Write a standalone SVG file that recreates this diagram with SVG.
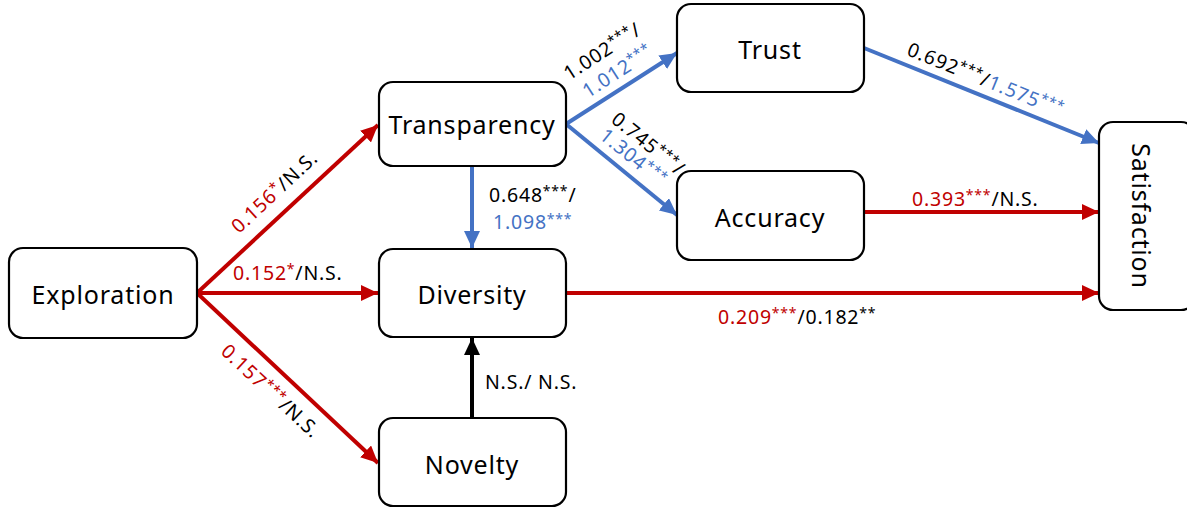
<svg xmlns="http://www.w3.org/2000/svg" width="1187" height="511" viewBox="0 0 1187 511">
<style>
.node rect{fill:#fff;stroke:#000;stroke-width:2.2}
.node text{font-family:"Noto Sans","Open Sans",sans-serif;font-size:25px;letter-spacing:0.8px;fill:#000;text-anchor:middle;dominant-baseline:central}
.lbl{font-family:"Noto Sans","Open Sans",sans-serif;font-size:19.5px;letter-spacing:0.8px;fill:#000}
.r{fill:#C00000}
.b{fill:#4472C4}
.k{fill:#000}
.st{font-size:14px}
.red{stroke:#C00000;stroke-width:4;fill:none}
.blue{stroke:#4472C4;stroke-width:4;fill:none}
.blk{stroke:#000;stroke-width:4;fill:none}
</style>
<defs>
<marker id="ar" markerUnits="userSpaceOnUse" markerWidth="18" markerHeight="16" refX="17" refY="8" orient="auto"><path d="M0,0 L17,8 L0,16 Z" fill="#C00000"/></marker>
<marker id="ab" markerUnits="userSpaceOnUse" markerWidth="18" markerHeight="16" refX="17" refY="8" orient="auto"><path d="M0,0 L17,8 L0,16 Z" fill="#4472C4"/></marker>
<marker id="ak" markerUnits="userSpaceOnUse" markerWidth="18" markerHeight="16" refX="17" refY="8" orient="auto"><path d="M0,0 L17,8 L0,16 Z" fill="#000"/></marker>
</defs>
<rect width="1187" height="511" fill="#fff"/>
<g id="connectors">
<line class="red" x1="197" y1="293" x2="378" y2="125" marker-end="url(#ar)"/>
<line class="red" x1="197" y1="293" x2="378" y2="293" marker-end="url(#ar)"/>
<line class="red" x1="197" y1="293" x2="378" y2="463" marker-end="url(#ar)"/>
<line class="blue" x1="472" y1="167" x2="472" y2="248" marker-end="url(#ab)"/>
<line class="blk" x1="472" y1="418" x2="472" y2="338" marker-end="url(#ak)"/>
<line class="blue" x1="566" y1="124" x2="677" y2="53" marker-end="url(#ab)"/>
<line class="blue" x1="566" y1="124" x2="677" y2="215" marker-end="url(#ab)"/>
<line class="blue" x1="864" y1="48" x2="1099" y2="143" marker-end="url(#ab)"/>
<line class="red" x1="864" y1="212" x2="1099" y2="212" marker-end="url(#ar)"/>
<line class="red" x1="566" y1="293" x2="1099" y2="293" marker-end="url(#ar)"/>
</g>
<g id="labels">
<text class="lbl" text-anchor="middle" transform="translate(279,197) rotate(-43)"><tspan class="r">0.156</tspan><tspan class="r st" dy="-6">*</tspan><tspan class="k" dy="6">/N.S.</tspan></text>
<text class="lbl" x="233" y="280"><tspan class="r">0.152</tspan><tspan class="r st" dy="-6">*</tspan><tspan class="k" dy="6">/N.S.</tspan></text>
<text class="lbl" text-anchor="middle" transform="translate(266,396) rotate(43)"><tspan class="r">0.157</tspan><tspan class="r st" dy="-6">***</tspan><tspan class="k" dy="6">/N.S.</tspan></text>
<text class="lbl"><tspan class="k" x="489" y="202">0.648</tspan><tspan class="k st" dy="-6">***</tspan><tspan class="k" dy="6">/</tspan><tspan class="b" x="493" y="229">1.098</tspan><tspan class="b st" dy="-5">***</tspan></text>
<text class="lbl" text-anchor="middle" transform="translate(606,57) rotate(-33)"><tspan class="k" x="0" y="0">1.002</tspan><tspan class="k st" dy="-6">***</tspan><tspan class="k" dy="6">/</tspan><tspan class="b" x="2" y="25">1.012</tspan><tspan class="b st" dy="-6">***</tspan></text>
<text class="lbl" text-anchor="middle" transform="translate(644,149) rotate(39)"><tspan class="k" x="0" y="0">0.745</tspan><tspan class="k st" dy="-6">***</tspan><tspan class="k" dy="6">/</tspan><tspan class="b" x="-3" y="20">1.304</tspan><tspan class="b st" dy="-6">***</tspan></text>
<text class="lbl" text-anchor="middle" transform="translate(983,86) rotate(22)"><tspan class="k">0.692</tspan><tspan class="k st" dy="-6">***</tspan><tspan class="k" dy="6">/</tspan><tspan class="b">1.575</tspan><tspan class="b st" dy="-6">***</tspan></text>
<text class="lbl" x="912" y="206"><tspan class="r">0.393</tspan><tspan class="r st" dy="-6">***</tspan><tspan class="k" dy="6">/N.S.</tspan></text>
<text class="lbl" x="718" y="324"><tspan class="r">0.209</tspan><tspan class="r st" dy="-6">***</tspan><tspan class="k" dy="6">/0.182</tspan><tspan class="k st" dy="-6">**</tspan></text>
<text class="lbl" x="485" y="389">N.S./ N.S.</text>
</g>
<g id="exploration" class="node"><rect x="9" y="248" width="188" height="90" rx="14"/><text x="103" y="294">Exploration</text></g>
<g id="transparency" class="node"><rect x="379" y="82" width="187" height="84" rx="14"/><text x="472" y="124">Transparency</text></g>
<g id="diversity" class="node"><rect x="379" y="249" width="187" height="88" rx="14"/><text x="472" y="294">Diversity</text></g>
<g id="novelty" class="node"><rect x="379" y="418" width="187" height="88" rx="14"/><text x="472" y="464">Novelty</text></g>
<g id="trust" class="node"><rect x="677" y="4" width="187" height="88" rx="14"/><text x="770" y="49">Trust</text></g>
<g id="accuracy" class="node"><rect x="677" y="171" width="187" height="89" rx="14"/><text x="770" y="217">Accuracy</text></g>
<g id="satisfaction" class="node"><rect x="1099" y="122" width="96" height="188" rx="14"/><text transform="translate(1142,216) rotate(90)">Satisfaction</text></g>
</svg>
